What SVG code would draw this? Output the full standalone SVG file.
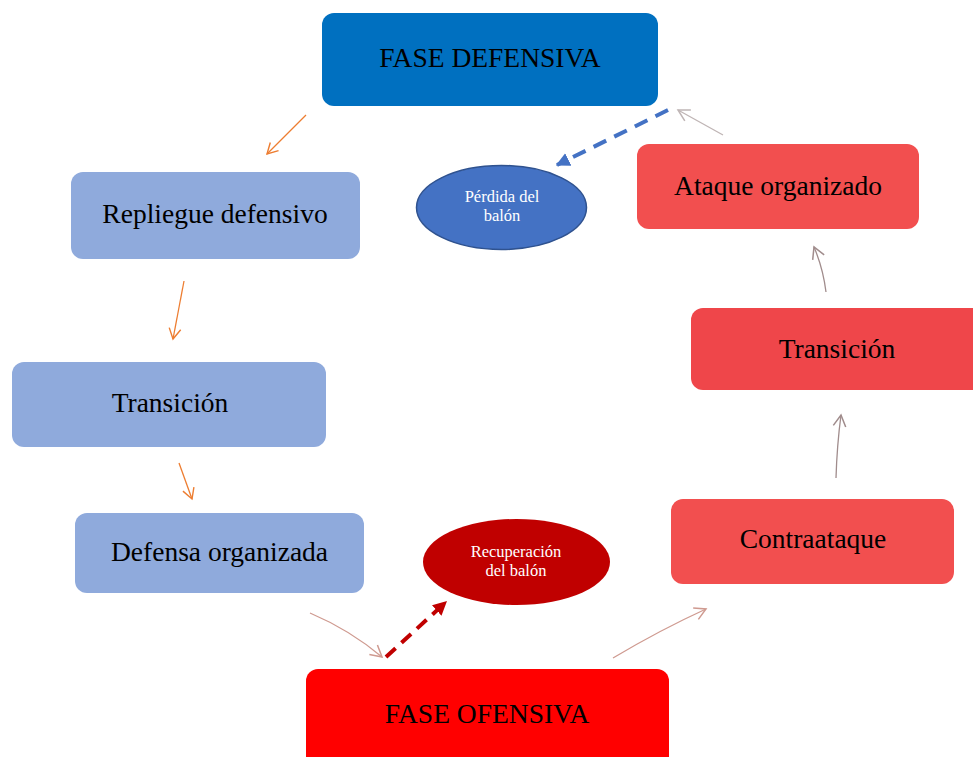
<svg xmlns="http://www.w3.org/2000/svg" width="973" height="757" viewBox="0 0 973 757">
<defs>
<style>
.t{font-family:"Liberation Serif","Times New Roman",serif;font-size:27.5px;fill:#000;text-anchor:middle}
.s{font-family:"Liberation Serif","Times New Roman",serif;font-size:16.5px;fill:#fff;text-anchor:middle}
.thin{fill:none;stroke-width:1.3}
</style>
<marker id="oOr" viewBox="0 0 12 12" refX="10" refY="6" markerWidth="14" markerHeight="14" markerUnits="userSpaceOnUse" orient="auto"><path d="M1,1 L10,6 L1,11" fill="none" stroke="#ED7D31" stroke-width="1.2"/></marker>
<marker id="oGr" viewBox="0 0 12 12" refX="10" refY="6" markerWidth="15" markerHeight="15" markerUnits="userSpaceOnUse" orient="auto"><path d="M1,1 L10,6 L1,11" fill="none" stroke="#BFB5B5" stroke-width="1.2"/></marker>
<marker id="oBr" viewBox="0 0 12 12" refX="10" refY="6" markerWidth="15" markerHeight="15" markerUnits="userSpaceOnUse" orient="auto"><path d="M1,1 L10,6 L1,11" fill="none" stroke="#A08C8C" stroke-width="1.2"/></marker>
<marker id="oPk" viewBox="0 0 12 12" refX="10" refY="6" markerWidth="15" markerHeight="15" markerUnits="userSpaceOnUse" orient="auto"><path d="M1,1 L10,6 L1,11" fill="none" stroke="#CF9A90" stroke-width="1.2"/></marker>
<marker id="fBl" viewBox="0 0 10 10" refX="9" refY="5" markerWidth="14" markerHeight="14" markerUnits="userSpaceOnUse" orient="auto"><path d="M0,0 L10,5 L0,10 Z" fill="#4472C4"/></marker>
<marker id="fRd" viewBox="0 0 10 10" refX="9" refY="5" markerWidth="14" markerHeight="14" markerUnits="userSpaceOnUse" orient="auto"><path d="M0,0 L10,5 L0,10 Z" fill="#C00000"/></marker>
</defs>
<rect width="973" height="757" fill="#fff"/>
<g id="connectors">
<line class="thin" x1="306" y1="115" x2="267" y2="154" stroke="#ED7D31" marker-end="url(#oOr)"/>
<line class="thin" x1="184" y1="281" x2="173" y2="339" stroke="#ED7D31" marker-end="url(#oOr)"/>
<line class="thin" x1="179" y1="463" x2="192" y2="499" stroke="#ED7D31" marker-end="url(#oOr)"/>
<path class="thin" d="M310,613 Q350,630 382,657" stroke="#CF9A90" marker-end="url(#oPk)"/>
<line x1="386" y1="657" x2="446" y2="602" stroke="#C00000" stroke-width="4" stroke-dasharray="13,8" marker-end="url(#fRd)"/>
<path class="thin" d="M613,658 Q660,630 706,609" stroke="#CF9A90" marker-end="url(#oPk)"/>
<path class="thin" d="M836,478 Q837,445 841,415" stroke="#A08C8C" marker-end="url(#oBr)"/>
<path class="thin" d="M826,292 Q823,268 814,247" stroke="#A08C8C" marker-end="url(#oBr)"/>
<line class="thin" x1="723" y1="135" x2="678" y2="110" stroke="#BFB5B5" marker-end="url(#oGr)"/>
<line x1="668" y1="110" x2="557" y2="165" stroke="#4472C4" stroke-width="4" stroke-dasharray="14,9" marker-end="url(#fBl)"/>
</g>
<g id="fase-defensiva">
<rect x="322" y="13" width="336" height="93" rx="12" fill="#0070C0"/>
<text class="t" x="490" y="67">FASE DEFENSIVA</text>
</g>
<g id="repliegue">
<rect x="71" y="172" width="289" height="87" rx="12" fill="#8FAADC"/>
<text class="t" x="215" y="223">Repliegue defensivo</text>
</g>
<g id="transicion-def">
<rect x="12" y="362" width="314" height="85" rx="12" fill="#8FAADC"/>
<text class="t" x="170" y="412">Transición</text>
</g>
<g id="defensa-organizada">
<rect x="75" y="513" width="289" height="80" rx="12" fill="#8FAADC"/>
<text class="t" x="219.5" y="561">Defensa organizada</text>
</g>
<g id="perdida">
<ellipse cx="501.5" cy="207.5" rx="85" ry="42" fill="#4472C4" stroke="#2F528F" stroke-width="1.5"/>
<text class="s" x="502" y="202">Pérdida del</text>
<text class="s" x="502" y="221">balón</text>
</g>
<g id="recuperacion">
<ellipse cx="516.5" cy="562" rx="93.5" ry="43" fill="#C00000"/>
<text class="s" x="516" y="557">Recuperación</text>
<text class="s" x="516" y="576">del balón</text>
</g>
<g id="fase-ofensiva">
<rect x="306" y="669" width="363" height="100" rx="12" fill="#FF0000"/>
<text class="t" x="487" y="723">FASE OFENSIVA</text>
</g>
<g id="contraataque">
<rect x="671" y="499" width="283" height="85" rx="12" fill="#F24F4F"/>
<text class="t" x="813" y="548">Contraataque</text>
</g>
<g id="transicion-of">
<rect x="691" y="308" width="300" height="82" rx="12" fill="#EF464A"/>
<text class="t" x="837" y="358">Transición</text>
</g>
<g id="ataque-organizado">
<rect x="637" y="144" width="282" height="85" rx="12" fill="#F24F4F"/>
<text class="t" x="778" y="195">Ataque organizado</text>
</g>
</svg>
